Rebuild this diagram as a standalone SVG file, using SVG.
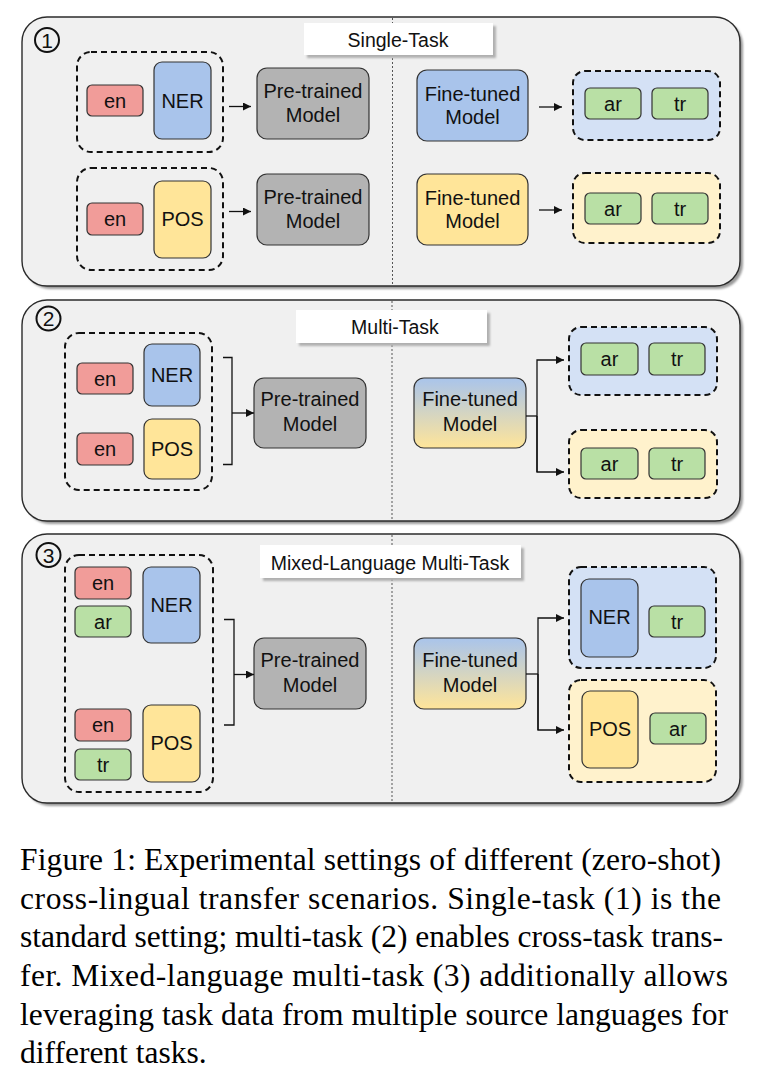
<svg xmlns="http://www.w3.org/2000/svg" width="778" height="1092" viewBox="0 0 778 1092">
<style>
.panel{fill:#f0f0f0;stroke:#2b2b2b;stroke-width:1.4}
.pshadow{fill:#9a9a9a;filter:url(#blur)}
.title{fill:#ffffff;stroke:none}
.tshadow{fill:#b0b0b0;filter:url(#blur)}
.sep{stroke:#555;stroke-width:1;stroke-dasharray:2,2;fill:none}
.grp{fill:none;stroke:#111;stroke-width:2;stroke-dasharray:6,4}
.gblue{fill:#d4e1f5}
.gyel{fill:#fff2cc}
.nd{stroke:#333;stroke-width:1.2}
.en{fill:#f19c99}
.ner{fill:#a9c4eb}
.pos{fill:#ffe599}
.lg{fill:#b9e0a5}
.pt{fill:#b3b3b3}
.ft{fill:url(#grad)}
.t{font-family:"Liberation Sans",Arial,sans-serif;font-size:20px;fill:#111;text-anchor:middle}
.tt{font-family:"Liberation Sans",Arial,sans-serif;font-size:19.5px;fill:#111;text-anchor:middle}
.num{font-family:"Liberation Sans",Arial,sans-serif;font-size:21px;fill:#111;text-anchor:middle}
.circ{fill:none;stroke:#111;stroke-width:2}
.conn{fill:none;stroke:#111;stroke-width:1.3}
.cap{font-family:"Liberation Serif","Times New Roman",serif;font-size:31.5px;fill:#000}
</style>
<defs>
<filter id="blur" x="-5%" y="-5%" width="110%" height="110%"><feGaussianBlur stdDeviation="0.8"/></filter>
<linearGradient id="grad" x1="0" y1="0" x2="0" y2="1"><stop offset="0" stop-color="#a9c4eb"/><stop offset="1" stop-color="#ffe599"/></linearGradient>
<marker id="ah" markerWidth="8" markerHeight="8" refX="8" refY="4" orient="auto" markerUnits="userSpaceOnUse"><path d="M0,0 L8,4 L0,8 Z" fill="#111"/></marker>
</defs>

<!-- Panel 1 -->
<g id="panel1">
<rect class="pshadow" x="25" y="20" width="718" height="269" rx="25"/>
<rect class="panel" x="22" y="17" width="718" height="269" rx="25"/>
<line class="sep" x1="392.5" y1="18" x2="392.5" y2="285"/>
<rect class="tshadow" x="307" y="26" width="189" height="32"/>
<rect class="title" x="304" y="23" width="189" height="32"/>
<text class="tt" x="398" y="46.5">Single-Task</text>
<circle class="circ" cx="47" cy="40" r="12"/>
<text class="num" x="47" y="47.5">1</text>
</g>
<g id="p1-group-ner"><rect class="grp" x="77" y="52" width="146" height="100" rx="14"/></g>
<g id="p1-en1"><rect class="nd en" x="87" y="85" width="56" height="31" rx="5"/><text class="t" x="115" y="107.5">en</text></g>
<g id="p1-ner"><rect class="nd ner" x="154" y="62" width="57" height="77" rx="8"/><text class="t" x="182.5" y="107.5">NER</text></g>
<g id="p1-pt1"><rect class="nd pt" x="257" y="68" width="112" height="71" rx="10"/><text class="t" x="313" y="97.5">Pre-trained</text><text class="t" x="313" y="122">Model</text></g>
<g id="p1-group-pos"><rect class="grp" x="77" y="168" width="146" height="102" rx="14"/></g>
<g id="p1-en2"><rect class="nd en" x="87" y="203" width="56" height="32" rx="5"/><text class="t" x="115" y="226">en</text></g>
<g id="p1-pos"><rect class="nd pos" x="154" y="181" width="57" height="77" rx="8"/><text class="t" x="182.5" y="226">POS</text></g>
<g id="p1-pt2"><rect class="nd pt" x="257" y="174" width="112" height="71" rx="10"/><text class="t" x="313" y="203.5">Pre-trained</text><text class="t" x="313" y="228">Model</text></g>
<g id="p1-ft1"><rect class="nd ner" x="417" y="70" width="111" height="71" rx="10"/><text class="t" x="472.5" y="100.5">Fine-tuned</text><text class="t" x="472.5" y="124">Model</text></g>
<g id="p1-out1"><rect class="grp gblue" x="573" y="71" width="147" height="69" rx="12"/><rect class="nd lg" x="585" y="88" width="56" height="31" rx="5"/><text class="t" x="613" y="110.5">ar</text><rect class="nd lg" x="652" y="88" width="56" height="31" rx="5"/><text class="t" x="680" y="110.5">tr</text></g>
<g id="p1-ft2"><rect class="nd pos" x="417" y="174" width="111" height="71" rx="10"/><text class="t" x="472.5" y="204.5">Fine-tuned</text><text class="t" x="472.5" y="228">Model</text></g>
<g id="p1-out2"><rect class="grp gyel" x="573" y="173" width="147" height="70" rx="12"/><rect class="nd lg" x="585" y="193" width="56" height="31" rx="5"/><text class="t" x="613" y="215.5">ar</text><rect class="nd lg" x="652" y="193" width="56" height="31" rx="5"/><text class="t" x="680" y="215.5">tr</text></g>

<!-- Panel 2 -->
<g id="panel2">
<rect class="pshadow" x="25" y="303" width="718" height="221" rx="25"/>
<rect class="panel" x="22" y="300" width="718" height="221" rx="25"/>
<line class="sep" x1="392" y1="301" x2="392" y2="520"/>
<rect class="tshadow" x="299" y="313" width="191" height="33"/>
<rect class="title" x="296" y="310" width="191" height="33"/>
<text class="tt" x="395" y="333.5">Multi-Task</text>
<circle class="circ" cx="48.5" cy="318.5" r="12"/>
<text class="num" x="48.5" y="326">2</text>
</g>
<g id="p2-group"><rect class="grp" x="65" y="333" width="147" height="157" rx="14"/></g>
<g id="p2-en1"><rect class="nd en" x="77" y="363" width="56" height="31" rx="5"/><text class="t" x="105" y="385.5">en</text></g>
<g id="p2-ner"><rect class="nd ner" x="144" y="344" width="56" height="62" rx="8"/><text class="t" x="172" y="382">NER</text></g>
<g id="p2-en2"><rect class="nd en" x="77" y="433" width="56" height="32" rx="5"/><text class="t" x="105" y="456">en</text></g>
<g id="p2-pos"><rect class="nd pos" x="144" y="419" width="56" height="60" rx="8"/><text class="t" x="172" y="456">POS</text></g>
<g id="p2-pt"><rect class="nd pt" x="254" y="378" width="112" height="70" rx="10"/><text class="t" x="310" y="406">Pre-trained</text><text class="t" x="310" y="430.5">Model</text></g>
<g id="p2-ft"><rect class="nd ft" x="414" y="378" width="112" height="70" rx="10"/><text class="t" x="470" y="406">Fine-tuned</text><text class="t" x="470" y="430.5">Model</text></g>
<g id="p2-out1"><rect class="grp gblue" x="569" y="327" width="148" height="68" rx="12"/><rect class="nd lg" x="581" y="343" width="57" height="32" rx="5"/><text class="t" x="609.5" y="366">ar</text><rect class="nd lg" x="649" y="343" width="56" height="32" rx="5"/><text class="t" x="677" y="366">tr</text></g>
<g id="p2-out2"><rect class="grp gyel" x="569" y="430" width="148" height="68" rx="12"/><rect class="nd lg" x="581" y="448" width="57" height="31" rx="5"/><text class="t" x="609.5" y="470.5">ar</text><rect class="nd lg" x="649" y="448" width="56" height="31" rx="5"/><text class="t" x="677" y="470.5">tr</text></g>

<!-- Panel 3 -->
<g id="panel3">
<rect class="pshadow" x="25" y="537" width="718" height="269" rx="25"/>
<rect class="panel" x="22" y="534" width="718" height="269" rx="25"/>
<line class="sep" x1="392" y1="535" x2="392" y2="802"/>
<rect class="tshadow" x="263" y="548" width="261" height="33"/>
<rect class="title" x="260" y="545" width="261" height="33"/>
<text class="tt" x="390" y="569.5">Mixed-Language Multi-Task</text>
<circle class="circ" cx="48.5" cy="555" r="12"/>
<text class="num" x="48.5" y="562.5">3</text>
</g>
<g id="p3-group"><rect class="grp" x="65" y="555" width="148" height="237" rx="14"/></g>
<g id="p3-en1"><rect class="nd en" x="75" y="567" width="56" height="32" rx="5"/><text class="t" x="103" y="590">en</text></g>
<g id="p3-ar"><rect class="nd lg" x="75" y="606" width="56" height="31" rx="5"/><text class="t" x="103" y="628.5">ar</text></g>
<g id="p3-ner"><rect class="nd ner" x="143" y="567" width="57" height="76" rx="8"/><text class="t" x="171.5" y="612">NER</text></g>
<g id="p3-en2"><rect class="nd en" x="75" y="709" width="56" height="32" rx="5"/><text class="t" x="103" y="732">en</text></g>
<g id="p3-tr"><rect class="nd lg" x="75" y="749" width="56" height="31" rx="5"/><text class="t" x="103" y="771.5">tr</text></g>
<g id="p3-pos"><rect class="nd pos" x="143" y="705" width="57" height="77" rx="8"/><text class="t" x="171.5" y="750">POS</text></g>
<g id="p3-pt"><rect class="nd pt" x="254" y="638" width="112" height="71" rx="10"/><text class="t" x="310" y="667">Pre-trained</text><text class="t" x="310" y="691.5">Model</text></g>
<g id="p3-ft"><rect class="nd ft" x="414" y="638" width="112" height="71" rx="10"/><text class="t" x="470" y="667">Fine-tuned</text><text class="t" x="470" y="691.5">Model</text></g>
<g id="p3-out1"><rect class="grp gblue" x="569" y="567" width="147" height="101" rx="12"/><rect class="nd ner" x="581" y="579" width="57" height="78" rx="8"/><text class="t" x="609.5" y="624">NER</text><rect class="nd lg" x="649" y="606" width="56" height="31" rx="5"/><text class="t" x="677" y="628.5">tr</text></g>
<g id="p3-out2"><rect class="grp gyel" x="569" y="680" width="147" height="102" rx="12"/><rect class="nd pos" x="582" y="691" width="56" height="77" rx="8"/><text class="t" x="610" y="736">POS</text><rect class="nd lg" x="650" y="713" width="56" height="31" rx="5"/><text class="t" x="678" y="735.5">ar</text></g>

<!-- Connectors -->
<g id="connectors">
<path class="conn" d="M229 106.5 H251" marker-end="url(#ah)"/>
<path class="conn" d="M229 211.5 H251" marker-end="url(#ah)"/>
<path class="conn" d="M539 107 H562" marker-end="url(#ah)"/>
<path class="conn" d="M539 210 H562" marker-end="url(#ah)"/>
<path class="conn" d="M223 357.5 H232 V464.5 H223"/>
<path class="conn" d="M232 413 H254" marker-end="url(#ah)"/>
<path class="conn" d="M526 416 H537"/>
<path class="conn" d="M537 472 V360 H564" marker-end="url(#ah)"/>
<path class="conn" d="M537 416 V472 H564" marker-end="url(#ah)"/>
<path class="conn" d="M224 619.5 H234 V725 H224"/>
<path class="conn" d="M234 674.5 H254" marker-end="url(#ah)"/>
<path class="conn" d="M526 674 H538"/>
<path class="conn" d="M538 730 V618 H564" marker-end="url(#ah)"/>
<path class="conn" d="M538 674 V730 H564" marker-end="url(#ah)"/>
</g>

<!-- Caption -->
<g id="caption">
<text class="cap" x="20" y="870" textLength="701" lengthAdjust="spacing">Figure 1: Experimental settings of different (zero-shot)</text>
<text class="cap" x="20" y="909" textLength="701" lengthAdjust="spacing">cross-lingual transfer scenarios. Single-task (1) is the</text>
<text class="cap" x="20" y="947" textLength="703" lengthAdjust="spacing">standard setting; multi-task (2) enables cross-task trans-</text>
<text class="cap" x="20" y="986" textLength="708" lengthAdjust="spacing">fer. Mixed-language multi-task (3) additionally allows</text>
<text class="cap" x="20" y="1025" textLength="708" lengthAdjust="spacing">leveraging task data from multiple source languages for</text>
<text class="cap" x="20" y="1063">different tasks.</text>
</g>
</svg>
